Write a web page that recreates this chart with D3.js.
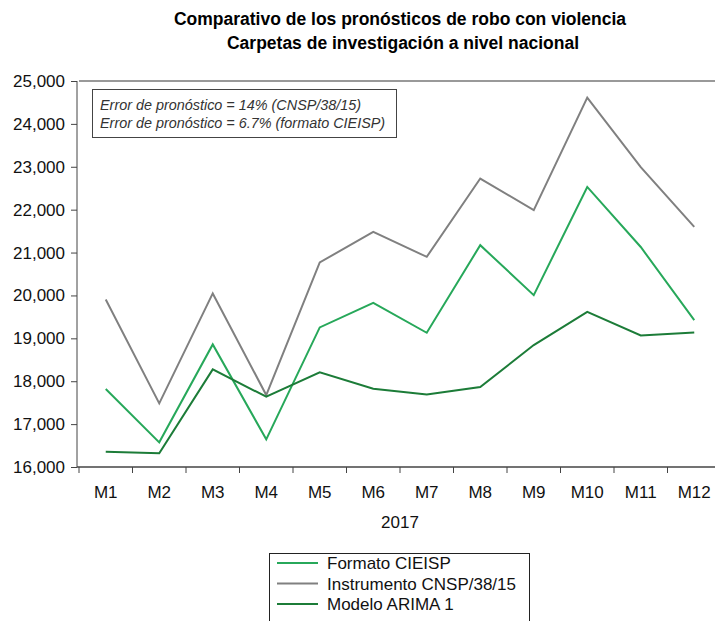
<!DOCTYPE html>
<html>
<head>
<meta charset="utf-8">
<script src="https://cdn.jsdelivr.net/npm/d3@7"></script>
<style>
  body { margin: 0; background: #fff; }
  svg { display: block; font-family: "Liberation Sans", Arial, sans-serif; }
</style>
</head>
<body>
<div id="chart"></div>
<script>
// Data
const months = ["M1", "M2", "M3", "M4", "M5", "M6", "M7", "M8", "M9", "M10", "M11", "M12"];
const formatoCIEISP = [17817, 16575, 18858, 16645, 19254, 19829, 19130, 21172, 20007, 22530, 21130, 19425];
const instrumentoCNSP = [19907, 17484, 20047, 17678, 20769, 21483, 20900, 22726, 21990, 24614, 22990, 21600];
const modeloARIMA = [16357, 16319, 18276, 17638, 18206, 17825, 17693, 17864, 18843, 19618, 19068, 19138];
const yTicks = [16000, 17000, 18000, 19000, 20000, 21000, 22000, 23000, 24000, 25000];
const seriesNames = ["Formato CIEISP", "Instrumento CNSP/38/15", "Modelo ARIMA 1"];
const notes = ["Error de pronóstico = 14% (CNSP/38/15)", "Error de pronóstico = 6.7% (formato CIEISP)"];

const colors = ["#27a85a", "#808080", "#1c7c38"];
const series = [formatoCIEISP, instrumentoCNSP, modeloARIMA];

const width = 715, height = 621;
const plot = {left: 79, right: 721, top: 81, bottom: 467};

const svg = d3.select("#chart")
    .append("svg")
    .attr("width", width)
    .attr("height", height);

// Scales
const x = d3.scaleBand().domain(months).range([plot.left, plot.right]);
const y = d3.scaleLinear().domain([16000, 25000]).range([plot.bottom, plot.top]);

// Title
svg.append("text")
    .attr("x", 400)
    .attr("y", 25)
    .attr("text-anchor", "middle")
    .style("font-size", "17.5px")
    .style("font-weight", "bold")
    .text("Comparativo de los pronósticos de robo con violencia");
svg.append("text")
    .attr("x", 403)
    .attr("y", 49)
    .attr("text-anchor", "middle")
    .style("font-size", "17.5px")
    .style("font-weight", "bold")
    .text("Carpetas de investigación a nivel nacional");

// Top frame line
svg.append("line")
    .attr("x1", plot.left).attr("x2", width)
    .attr("y1", plot.top).attr("y2", plot.top)
    .attr("stroke", "#777")
    .attr("stroke-width", 1.5);

// Y axis
const yAxis = svg.append("g")
    .attr("transform", `translate(${plot.left - 2},0)`)
    .call(d3.axisLeft(y).tickValues(yTicks).tickSize(6).tickPadding(6).tickFormat(d3.format(",")));
yAxis.select(".domain").attr("stroke", "#444").attr("d", `M0,${plot.top}V${plot.bottom}`);
yAxis.selectAll(".tick line").attr("stroke", "#444");
yAxis.selectAll("text")
    .style("font-size", "17px")
    .attr("fill", "#111")
    .attr("font-family", "Liberation Sans, Arial, sans-serif");

// X axis: ticks on band edges, labels at band centres
const xAxis = svg.append("g").attr("transform", `translate(0,${plot.bottom})`);
xAxis.append("line")
    .attr("x1", plot.left - 2).attr("x2", width)
    .attr("stroke", "#444")
    .attr("stroke-width", 1.5);
xAxis.selectAll(".edge")
    .data(months)
    .join("line")
    .attr("x1", d => x(d)).attr("x2", d => x(d))
    .attr("y1", 0).attr("y2", 6)
    .attr("stroke", "#444");
xAxis.selectAll(".lab")
    .data(months)
    .join("text")
    .attr("x", d => x(d) + x.bandwidth() / 2)
    .attr("y", 31)
    .attr("text-anchor", "middle")
    .style("font-size", "17px")
    .attr("fill", "#111")
    .text(d => d);

svg.append("text")
    .attr("x", 400)
    .attr("y", 528)
    .attr("text-anchor", "middle")
    .style("font-size", "17px")
    .attr("fill", "#111")
    .text("2017");

// Lines
const line = d3.line()
    .x((d, i) => x(months[i]) + x.bandwidth() / 2)
    .y(d => y(d));

series.forEach((s, i) => {
    svg.append("path")
        .datum(s)
        .attr("fill", "none")
        .attr("stroke", colors[i])
        .attr("stroke-width", 2)
        .attr("stroke-linejoin", "miter")
        .attr("d", line);
});

// Note box
svg.append("rect")
    .attr("x", 92.5).attr("y", 89.5)
    .attr("width", 304).attr("height", 48)
    .attr("fill", "#fff")
    .attr("stroke", "#444")
    .attr("stroke-width", 1);
notes.forEach((t, i) => {
    svg.append("text")
        .attr("x", 100)
        .attr("y", 110 + i * 18)
        .style("font-size", "14.4px")
        .style("font-style", "italic")
        .attr("fill", "#333")
        .text(t);
});

// Legend
const legend = svg.append("g");
legend.append("rect")
    .attr("x", 269.5).attr("y", 553.5)
    .attr("width", 260).attr("height", 80)
    .attr("fill", "#fff")
    .attr("stroke", "#222");
seriesNames.forEach((name, i) => {
    const cy = 563 + i * 20.5;
    legend.append("line")
        .attr("x1", 277).attr("x2", 318)
        .attr("y1", cy).attr("y2", cy)
        .attr("stroke", colors[i])
        .attr("stroke-width", 2);
    legend.append("text")
        .attr("x", 327)
        .attr("y", cy + 6)
        .style("font-size", "17px")
        .attr("fill", "#111")
        .text(name);
});
</script>
</body>
</html>
